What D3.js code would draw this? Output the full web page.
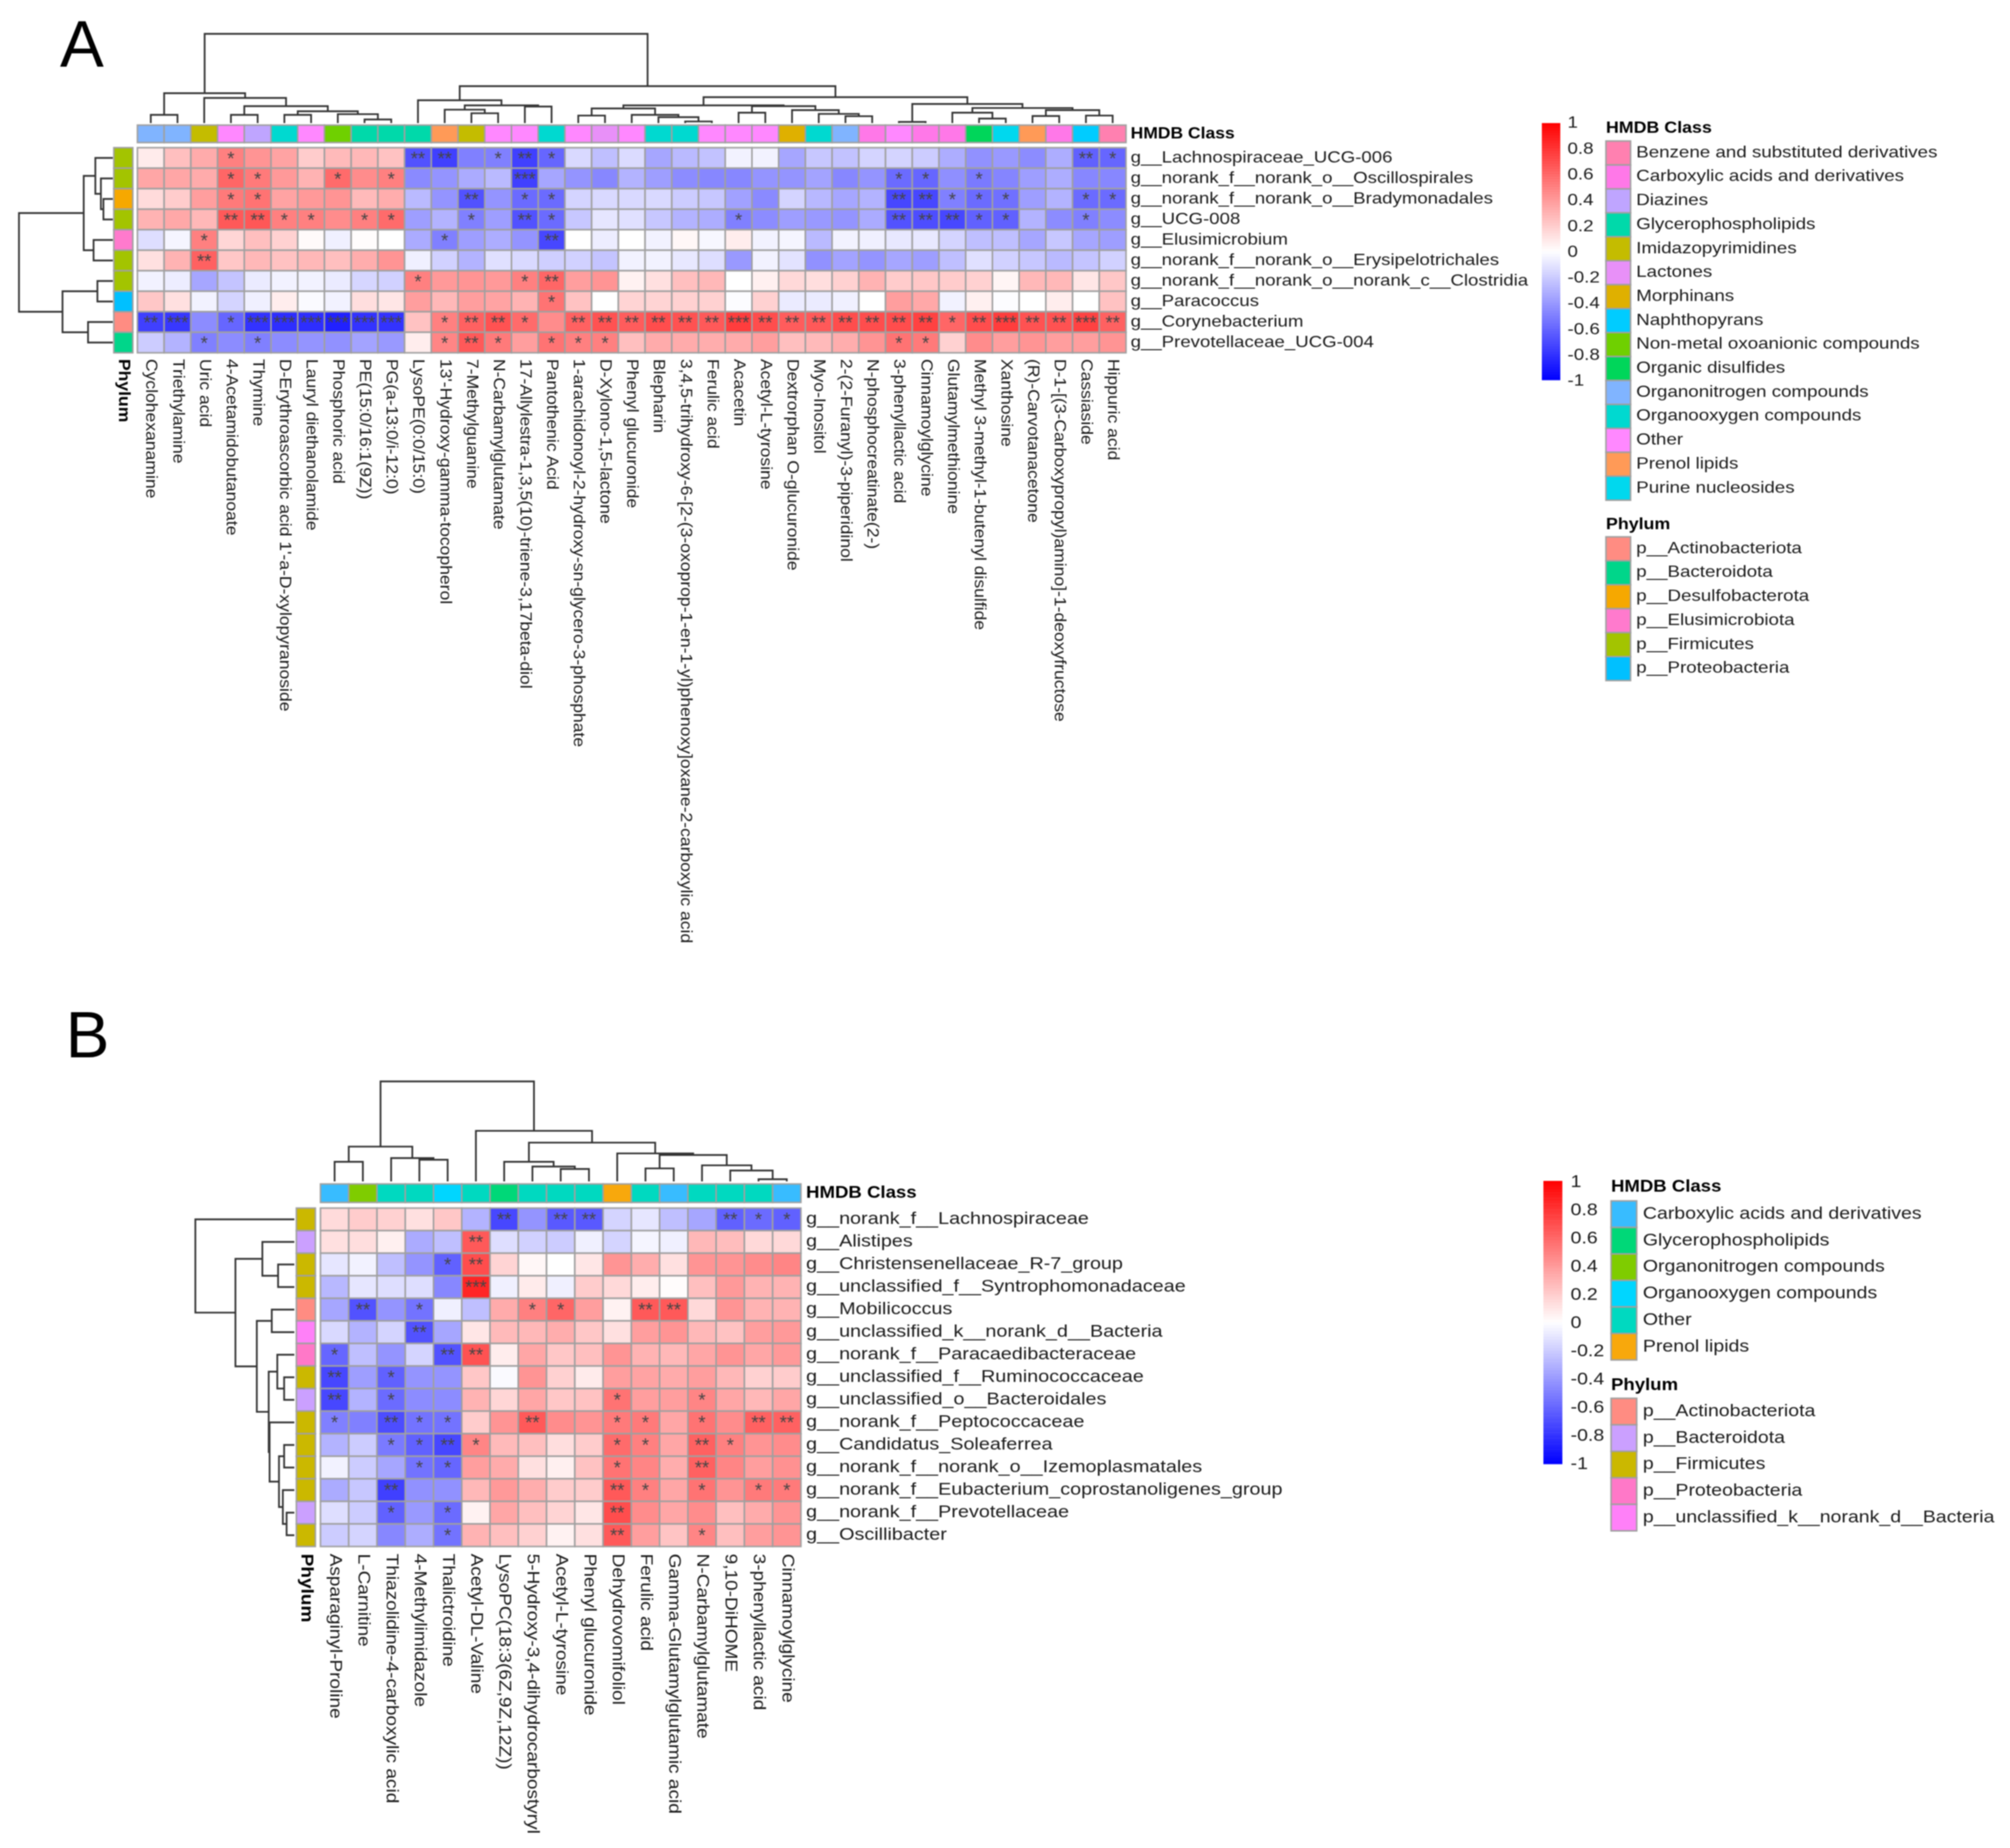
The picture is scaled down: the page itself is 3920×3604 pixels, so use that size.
<!DOCTYPE html>
<html>
<head>
<meta charset="utf-8">
<script src="https://cdn.jsdelivr.net/npm/d3@7"></script>
<style>
html,body{margin:0;padding:0;background:#fff}
svg{display:block;filter:blur(1.1px)}
text{font-family:"Liberation Sans",Arial,sans-serif;fill:#1a1a1a}
</style>
</head>
<body>
<svg id="chart" width="3920" height="3604" viewBox="0 0 3920 3604"></svg>
<script>
// ---------- class colours ----------
const classColors = {
  "Benzene and substituted derivatives":"#FF80B0","Carboxylic acids and derivatives":"#FF78E8","Diazines":"#BFA5FF",
  "Glycerophospholipids":"#00D9AA","Imidazopyrimidines":"#C4BC00","Lactones":"#E890F8","Morphinans":"#DFB000",
  "Naphthopyrans":"#00CCFF","Non-metal oxoanionic compounds":"#6FD000","Organic disulfides":"#00D65A",
  "Organonitrogen compounds":"#80B4FF","Organooxygen compounds":"#00D9D0","Other":"#FF88FF","Prenol lipids":"#FF9A57","Purine nucleosides":"#00D8EE"
};
const phylumColors = {
  "p__Actinobacteriota":"#FF8C82","p__Bacteroidota":"#00D68A","p__Desulfobacterota":"#F6A800",
  "p__Elusimicrobiota":"#FF7ACD","p__Firmicutes":"#A3C400","p__Proteobacteria":"#00C0FF"
};
const classColorsB = {
  "Carboxylic acids and derivatives":"#38BCFF","Glycerophospholipids":"#00D878","Organonitrogen compounds":"#7FCC00",
  "Organooxygen compounds":"#00D6FF","Other":"#00D9C0","Prenol lipids":"#F8A80C"
};
const phylumColorsB = {
  "p__Actinobacteriota":"#FF8C82","p__Bacteroidota":"#CBA0FF","p__Firmicutes":"#CBB800",
  "p__Proteobacteria":"#FF78C8","p__unclassified_k__norank_d__Bacteria":"#FF80F8"
};
const colorTicks = [1,0.8,0.6,0.4,0.2,0,-0.2,-0.4,-0.6,-0.8,-1];

// ---------- panel A ----------
const colsA = ["Cyclohexanamine","Triethylamine","Uric acid","4-Acetamidobutanoate","Thymine","D-Erythroascorbic acid 1'-a-D-xylopyranoside","Lauryl diethanolamide","Phosphoric acid","PE(15:0/16:1(9Z))","PG(a-13:0/i-12:0)","LysoPE(0:0/15:0)","13'-Hydroxy-gamma-tocopherol","7-Methylguanine","N-Carbamylglutamate","17-Allylestra-1,3,5(10)-triene-3,17beta-diol","Pantothenic Acid","1-arachidonoyl-2-hydroxy-sn-glycero-3-phosphate","D-Xylono-1,5-lactone","Phenyl glucuronide","Blepharin","3,4,5-trihydroxy-6-[2-(3-oxoprop-1-en-1-yl)phenoxy]oxane-2-carboxylic acid","Ferulic acid","Acacetin","Acetyl-L-tyrosine","Dextrorphan O-glucuronide","Myo-Inositol","2-(2-Furanyl)-3-piperidinol","N-phosphocreatinate(2-)","3-phenyllactic acid","Cinnamoylglycine","Glutamylmethionine","Methyl 3-methyl-1-butenyl disulfide","Xanthosine","(R)-Carvotanacetone","D-1-[(3-Carboxypropyl)amino]-1-deoxyfructose","Cassiaside","Hippuric acid"];
const rowsA = ["g__Lachnospiraceae_UCG-006","g__norank_f__norank_o__Oscillospirales","g__norank_f__norank_o__Bradymonadales","g__UCG-008","g__Elusimicrobium","g__norank_f__norank_o__Erysipelotrichales","g__norank_f__norank_o__norank_c__Clostridia","g__Paracoccus","g__Corynebacterium","g__Prevotellaceae_UCG-004"];
const colClassA = ["Organonitrogen compounds","Organonitrogen compounds","Imidazopyrimidines","Other","Diazines","Organooxygen compounds","Other","Non-metal oxoanionic compounds","Glycerophospholipids","Glycerophospholipids","Glycerophospholipids","Prenol lipids","Imidazopyrimidines","Other","Other","Organooxygen compounds","Other","Lactones","Other","Organooxygen compounds","Organooxygen compounds","Other","Other","Other","Morphinans","Organooxygen compounds","Organonitrogen compounds","Carboxylic acids and derivatives","Other","Carboxylic acids and derivatives","Carboxylic acids and derivatives","Organic disulfides","Purine nucleosides","Prenol lipids","Carboxylic acids and derivatives","Naphthopyrans","Benzene and substituted derivatives"];
const rowPhylumA = ["p__Firmicutes","p__Firmicutes","p__Desulfobacterota","p__Firmicutes","p__Elusimicrobiota","p__Firmicutes","p__Firmicutes","p__Proteobacteria","p__Actinobacteriota","p__Bacteroidota"];
const valuesA = [
 [.08,.25,.33,.5,.42,.36,.2,.27,.28,.24,-.68,-.75,-.5,-.5,-.75,-.6,-.15,-.25,-.14,-.35,-.27,-.24,-.05,-.05,-.35,-.22,-.24,-.17,-.17,-.2,-.32,-.43,-.4,-.45,-.32,-.62,-.6],
 [.35,.35,.33,.6,.52,.4,.3,.58,.45,.5,-.46,-.42,-.33,-.27,-.75,-.35,-.42,-.47,-.3,-.38,-.45,-.47,-.47,-.42,-.42,-.36,-.47,-.42,-.58,-.6,-.44,-.52,-.48,-.38,-.32,-.47,-.47],
 [.14,.2,.38,.52,.55,.36,.4,.42,.27,.32,-.27,-.42,-.68,-.42,-.58,-.58,-.17,-.15,-.15,-.15,-.2,-.22,-.37,-.46,-.17,-.28,-.35,-.3,-.72,-.72,-.5,-.58,-.56,-.38,-.3,-.58,-.58],
 [.3,.34,.28,.65,.66,.5,.5,.45,.5,.58,-.38,-.3,-.5,-.38,-.68,-.58,-.22,-.1,-.12,-.22,-.3,-.32,-.5,-.45,-.38,-.4,-.42,-.33,-.68,-.7,-.72,-.62,-.62,-.3,-.45,-.5,-.45],
 [-.13,-.04,.5,.16,.25,.18,.02,-.06,.01,0,-.33,-.5,-.38,-.32,-.42,-.72,0,-.07,0,-.05,.03,-.03,.07,-.05,-.04,-.27,-.05,-.06,-.09,-.09,-.17,-.25,-.25,-.35,-.22,-.35,-.38],
 [.12,.3,.62,.22,.28,.24,.28,.25,.32,.42,-.06,-.18,-.3,-.12,-.15,-.19,-.18,-.23,-.05,-.05,-.09,-.13,-.4,-.05,-.11,-.43,-.36,-.42,-.35,-.38,-.25,-.12,-.18,-.22,-.27,-.23,-.18],
 [-.05,-.07,-.35,-.23,-.08,-.05,-.05,-.08,-.16,-.18,.5,.4,.42,.4,.5,.6,.38,.42,.05,.12,.25,.28,0,.06,.15,.13,.18,.3,.2,.22,.2,.18,.04,.28,.28,.1,.22],
 [.22,.12,-.05,-.17,-.06,.07,-.02,-.05,.13,.1,.38,.28,.38,.36,.3,.55,.24,0,.17,.17,.18,.18,-.01,.18,-.08,-.08,-.06,0,.38,.34,-.05,.06,-.01,0,.07,0,.24],
 [-.75,-.78,-.45,-.6,-.8,-.82,-.82,-.87,-.8,-.8,.24,.5,.62,.68,.58,.45,.62,.68,.64,.7,.68,.65,.76,.7,.64,.65,.7,.7,.7,.74,.6,.7,.76,.68,.68,.74,.62],
 [-.2,-.3,-.5,-.45,-.5,-.45,-.42,-.43,-.36,-.4,.07,.48,.65,.52,.38,.55,.5,.5,.25,.33,.33,.32,.33,.38,.25,.27,.32,.42,.55,.52,.18,.45,.38,.42,.38,.38,.42]
];
// significance stars per cell, one digit per column
const starsA = [
 "0001000000220121000000000000000000021",
 "0001100101000030000000000000110100000",
 "0001100000002011000000000000221110011",
 "0002211011001021000000100000222110010",
 "0010000000010002000000000000000000000",
 "0020000000000000000000000000000000000",
 "0000000000100012000000000000000000000",
 "0000000000000001000000000000000000000",
 "2301333333012210222222322222221232232",
 "0010100000012101110000000000110000000"
];
// dendrograms: [merge height (percent of tallest), left, right]; numbers are leaves
const colTreeA = [100,
  [33.5,[9.2,0,1],[28.2,2,[19,[9.2,3,4],[13.2,[9.2,5,6],[10,7,[4,8,9]]]]]],
  [41.4,
    [25.6,10,[19.8,[15,11,[11,12,13]],[18.5,14,15]]],
    [29,
      [19.8,[16.4,[8.4,16,17],[9.2,18,[6.6,19,[1.8,20,21]]]],[19,[11.6,22,23],[14.5,24,[10.3,25,[7.7,26,27]]]]],
      [21.4,[1.3,28,29],[16.9,[11.6,30,[5,31,32]],[14.5,[7.9,33,34],[8.4,35,36]]]]
    ]
  ]
];
const rowTreeA = [100,[31,[18.6,0,[12.7,1,[10,2,3]]],[20.5,4,5]],[53.6,[16.4,6,7],[26.4,8,9]]];

// ---------- panel B ----------
const colsB = ["Asparaginyl-Proline","L-Carnitine","Thiazolidine-4-carboxylic acid","4-Methylimidazole","Thalictroidine","Acetyl-DL-Valine","LysoPC(18:3(6Z,9Z,12Z))","5-Hydroxy-3,4-dihydrocarbostyryl","Acetyl-L-tyrosine","Phenyl glucuronide","Dehydrovomifoliol","Ferulic acid","Gamma-Glutamylglutamic acid","N-Carbamylglutamate","9,10-DiHOME","3-phenyllactic acid","Cinnamoylglycine"];
const rowsB = ["g__norank_f__Lachnospiraceae","g__Alistipes","g__Christensenellaceae_R-7_group","g__unclassified_f__Syntrophomonadaceae","g__Mobilicoccus","g__unclassified_k__norank_d__Bacteria","g__norank_f__Paracaedibacteraceae","g__unclassified_f__Ruminococcaceae","g__unclassified_o__Bacteroidales","g__norank_f__Peptococcaceae","g__Candidatus_Soleaferrea","g__norank_f__norank_o__Izemoplasmatales","g__norank_f__Eubacterium_coprostanoligenes_group","g__norank_f__Prevotellaceae","g__Oscillibacter"];
const colClassB = ["Carboxylic acids and derivatives","Organonitrogen compounds","Other","Other","Organooxygen compounds","Other","Glycerophospholipids","Other","Other","Other","Prenol lipids","Other","Carboxylic acids and derivatives","Other","Other","Other","Carboxylic acids and derivatives"];
const rowPhylumB = ["p__Firmicutes","p__Bacteroidota","p__Firmicutes","p__Firmicutes","p__Actinobacteriota","p__unclassified_k__norank_d__Bacteria","p__Proteobacteria","p__Firmicutes","p__Bacteroidota","p__Firmicutes","p__Firmicutes","p__Firmicutes","p__Firmicutes","p__Bacteroidota","p__Firmicutes"];
const valuesB = [
 [.14,.2,.18,.12,.22,-.3,-.72,-.42,-.65,-.65,-.17,-.1,-.25,-.35,-.62,-.58,-.62],
 [.12,.13,.06,-.33,-.25,.65,-.13,-.18,-.2,-.06,-.17,-.04,-.06,.28,.26,.15,.15],
 [-.1,-.05,-.25,-.42,-.62,.7,.17,.03,0,.1,.42,.32,.12,.42,.42,.45,.48],
 [-.28,-.1,-.13,-.13,-.47,.85,-.06,.08,-.06,.2,.15,.07,.01,.25,.4,.3,.3],
 [-.35,-.68,-.42,-.55,-.06,-.25,.33,.5,.6,.38,.05,.65,.65,.15,.42,.3,.3],
 [-.15,-.3,-.17,-.68,-.35,.1,.27,.28,.32,.22,.12,.38,.42,.28,.24,.38,.4],
 [-.6,-.25,-.42,-.17,-.68,.68,.07,.35,.22,.25,.42,.3,.28,.35,.42,.35,.4],
 [-.72,-.38,-.62,-.42,-.42,.22,-.02,.42,.18,.08,.38,.36,.33,.38,.28,.18,.2],
 [-.72,-.3,-.58,-.45,-.45,.3,.16,.35,.22,.24,.55,.38,.38,.48,.35,.28,.35],
 [-.5,-.5,-.7,-.55,-.55,.2,.42,.65,.45,.42,.52,.52,.35,.55,.45,.62,.62],
 [-.3,-.2,-.52,-.62,-.72,.48,.27,.25,.13,.2,.58,.5,.35,.62,.5,.42,.45],
 [-.05,-.2,-.35,-.55,-.6,.38,.33,.12,.06,.24,.55,.48,.32,.62,.48,.38,.43],
 [-.33,-.22,-.75,-.43,-.43,.28,.4,.32,.2,.2,.65,.5,.35,.55,.42,.52,.52],
 [-.13,-.2,-.62,-.4,-.58,.05,.35,.25,.17,.1,.7,.45,.35,.45,.25,.33,.42],
 [-.2,-.17,-.47,-.32,-.55,.3,.25,.18,.05,.12,.65,.38,.23,.48,.25,.38,.42]
];
const starsB = [
 "00000020220000211",
 "00000200000000000",
 "00001200000000000",
 "00000300000000000",
 "02010001100220000",
 "00020000000000000",
 "10002200000000000",
 "20100000000000000",
 "20100000001001000",
 "10211002001101022",
 "00112100001102100",
 "00011000001002000",
 "00200000002101011",
 "00101000002000000",
 "00001000002001000"
];
const colTreeB = [100,
  [34.8,[19.6,0,1],[23.3,2,[21.7,3,4]]],
  [50.6,5,[38.8,[19.6,6,[14.9,7,[12.4,8,9]]],[28,10,[26.4,[13,11,12],[16.1,13,[10.9,14,[2.2,15,16]]]]]]]
];
const rowTreeB = [100,0,[59.5,[32.3,1,[16.4,2,3]],[37.9,[22.8,4,5],[25.9,[17.2,6,[10.3,7,8]],[25,9,[15.5,[10.3,10,11],[11.6,12,[7.8,13,14]]]]]]]];

// ---------- drawing ----------
const svg = d3.select("#chart");
svg.append("rect").attr("width",3920).attr("height",3604).attr("fill","#fff");
const heat = d3.scaleLinear().domain([-1,0,1]).range(["#0000ff","#ffffff","#ff0000"]);
const GRID = "#a0a0a0";

function label(g,txt,x,y,size,sx,opts={}){
  return g.append("text")
    .attr("transform",`translate(${x},${y})${opts.rotate?" rotate(90)":""} scale(${sx},1)`)
    .attr("dy","0.27em").attr("font-size",size)
    .attr("font-weight",opts.bold?"bold":null)
    .style("fill",opts.fill||null)
    .text(txt);
}

function dendro(g,tree,pos,hScale,horizontal){
  const segs=[];
  (function walk(n){
    if(typeof n==="number") return {p:pos(n),h:0};
    const a=walk(n[1]), b=walk(n[2]);
    segs.push({a,b,h:n[0]});
    return {p:(a.p+b.p)/2,h:n[0]};
  })(tree);
  const path=d=>{
    const pts=[[d.a.p,d.a.h],[d.a.p,d.h],[d.b.p,d.h],[d.b.p,d.b.h]];
    const line=d3.line().x(q=>horizontal?hScale(q[1]):q[0]).y(q=>horizontal?q[0]:hScale(q[1]));
    return line(pts);
  };
  g.selectAll(null).data(segs).join("path").attr("d",path)
    .attr("fill","none").attr("stroke","#333").attr("stroke-width",3.4);
}

function panel(c){
  const g=svg.append("g");
  const nC=c.cols.length,nR=c.rows.length;
  const x=d3.scaleBand().domain(d3.range(nC)).range(c.xr);
  const y=d3.scaleBand().domain(d3.range(nR)).range(c.yr);
  const cell=[];
  c.values.forEach((r,i)=>r.forEach((v,j)=>cell.push({i,j,v,s:+c.stars[i][j]})));
  g.selectAll(null).data(cell).join("rect")
    .attr("x",d=>x(d.j)).attr("y",d=>y(d.i))
    .attr("width",x.bandwidth()).attr("height",y.bandwidth())
    .attr("fill",d=>heat(d.v)).attr("stroke",GRID).attr("stroke-width",3);
  g.selectAll(null).data(cell.filter(d=>d.s>0)).join("text")
    .attr("x",d=>x(d.j)+x.bandwidth()/2).attr("y",d=>y(d.i)+y.bandwidth()/2+c.starDy)
    .attr("text-anchor","middle").attr("font-size",36).style("fill","#454545")
    .text(d=>"*".repeat(d.s));
  // annotation column bar
  g.selectAll(null).data(c.colClass).join("rect")
    .attr("x",(d,j)=>x(j)).attr("y",c.annY[0]).attr("width",x.bandwidth()).attr("height",c.annY[1]-c.annY[0])
    .attr("fill",d=>c.classColors[d]).attr("stroke",GRID).attr("stroke-width",3);
  // annotation row bar
  g.selectAll(null).data(c.rowPhylum).join("rect")
    .attr("x",c.annX[0]).attr("y",(d,i)=>y(i)).attr("width",c.annX[1]-c.annX[0]).attr("height",y.bandwidth())
    .attr("fill",d=>c.phylumColors[d]).attr("stroke",GRID).attr("stroke-width",3);
  // labels
  c.rows.forEach((t,i)=>label(g,t,c.rowLabelX,y(i)+y.bandwidth()/2,c.rowFont,c.rowSx));
  c.cols.forEach((t,j)=>label(g,t,x(j)+x.bandwidth()/2,c.colLabelY,c.colFont,c.colSx,{rotate:true}));
  label(g,"HMDB Class",c.rowLabelX,(c.annY[0]+c.annY[1])/2,c.rowFont,c.rowSx*.94,{bold:true,fill:"#000"});
  label(g,"Phylum",(c.annX[0]+c.annX[1])/2,c.colLabelY,c.colFont,c.colSx,{rotate:true,bold:true,fill:"#000"});
  // dendrograms
  const hTop=d3.scaleLinear().domain([0,100]).range(c.colDendro);
  dendro(g,c.colTree,j=>x(j)+x.bandwidth()/2,hTop,false);
  const hLeft=d3.scaleLinear().domain([0,100]).range(c.rowDendro);
  dendro(g,c.rowTree,i=>y(i)+y.bandwidth()/2,hLeft,true);
}

function legend(c){
  const g=svg.append("g");
  const yb=d3.scaleLinear().domain([1,-1]).range(c.barY);
  const steps=d3.range(100);
  g.selectAll(null).data(steps).join("rect")
    .attr("x",c.barX[0]).attr("width",c.barX[1]-c.barX[0])
    .attr("y",k=>yb(1-k*0.02)).attr("height",(c.barY[1]-c.barY[0])/100+.5)
    .attr("fill",k=>heat(1-(k+.5)*0.02));
  colorTicks.forEach(t=>label(g,String(t),c.tickX,c.tick(t),c.font,c.sx));
  const block=(title,names,colors,yTitle,ySw,h)=>{
    label(g,title,c.swX[0],yTitle,c.font,c.sx*.95,{bold:true,fill:"#000"});
    const ys=d3.scaleBand().domain(names).range([ySw,ySw+h*names.length]);
    g.selectAll(null).data(names).join("rect")
      .attr("x",c.swX[0]).attr("width",c.swX[1]-c.swX[0])
      .attr("y",d=>ys(d)).attr("height",ys.bandwidth())
      .attr("fill",d=>colors[d]).attr("stroke",GRID).attr("stroke-width",3);
    names.forEach(n=>label(g,n,c.textX,ys(n)+ys.bandwidth()/2,c.font,c.sx));
  };
  block("HMDB Class",Object.keys(c.classColors),c.classColors,c.t1,c.s1,c.h);
  block("Phylum",Object.keys(c.phylumColors),c.phylumColors,c.t2,c.s2,c.h);
}

panel({cols:colsA,rows:rowsA,values:valuesA,stars:starsA,colClass:colClassA,rowPhylum:rowPhylumA,
  classColors,phylumColors,colTree:colTreeA,rowTree:rowTreeA,
  xr:[268,2196],yr:[288,688],annY:[244,278],annX:[222,259],
  colDendro:[240,66],rowDendro:[220,37],rowLabelX:2205,colLabelY:700,
  rowFont:32,rowSx:1.135,colFont:32,colSx:1.07,starDy:14});
panel({cols:colsB,rows:rowsB,values:valuesB,stars:starsB,colClass:colClassB,rowPhylum:rowPhylumB,
  classColors:classColorsB,phylumColors:phylumColorsB,colTree:colTreeB,rowTree:rowTreeB,
  xr:[625,1562],yr:[2356,3016],annY:[2309,2345],annX:[578,615],
  colDendro:[2304,2109],rowDendro:[574,381],rowLabelX:1572,colLabelY:3030,
  rowFont:33,rowSx:1.17,colFont:33,colSx:1.125,starDy:13});
const tickA=d3.scaleLinear().domain([1,-1]).range([241,744]);
const tickB=d3.scaleLinear().domain([1,-1]).range([2306,2856]);
legend({barX:[3007,3043],barY:[240,741],tickX:3057,tick:tickA,font:31,sx:1.18,
  swX:[3132,3180],textX:3191,classColors,phylumColors,t1:251,s1:275,t2:1024,s2:1047,h:46.7});
legend({barX:[3010,3047],barY:[2303,2855],tickX:3063,tick:tickB,font:34,sx:1.12,
  swX:[3142,3192],textX:3204,classColors:classColorsB,phylumColors:phylumColorsB,t1:2315,s1:2342,t2:2702,s2:2727,h:51.7});

// panel letters
[["A",117,130],["B",128,2062]].forEach(d=>svg.append("text").attr("x",d[1]).attr("y",d[2]).attr("font-size",128).style("fill","#000").text(d[0]));
</script>
</body>
</html>
